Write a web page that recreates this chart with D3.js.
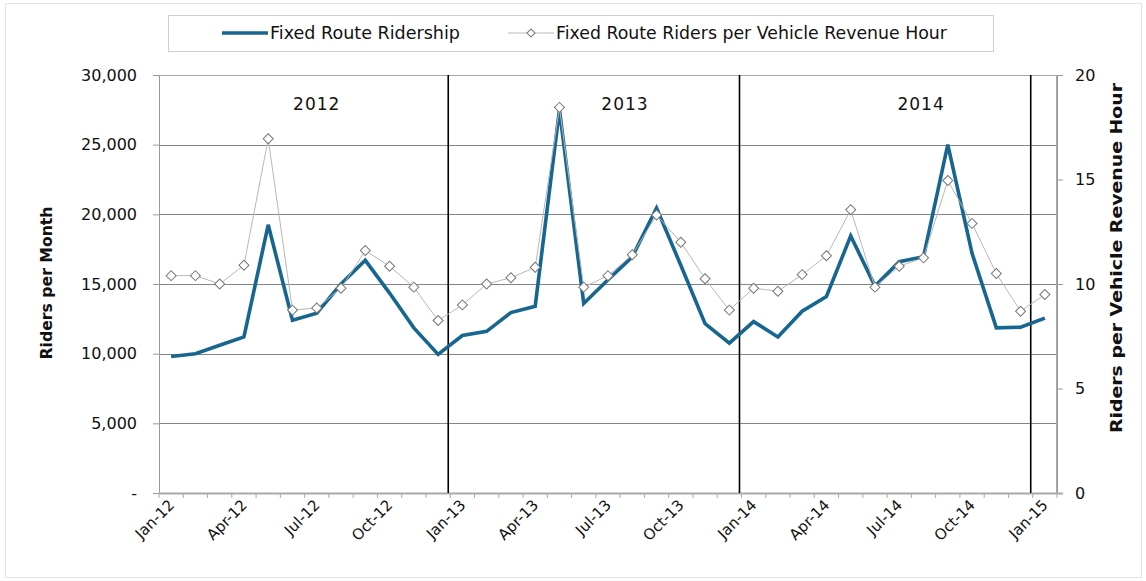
<!DOCTYPE html>
<html><head><meta charset="utf-8">
<script src="https://cdn.jsdelivr.net/npm/d3@7"></script>
<style>
body{margin:0;background:#fff;}
text{font-family:"DejaVu Sans","Noto Sans",sans-serif;fill:#111;}
</style></head>
<body><svg id="c" width="1146" height="581"></svg>
<script>
const months = ["Jan-12","Feb-12","Mar-12","Apr-12","May-12","Jun-12","Jul-12","Aug-12","Sep-12","Oct-12","Nov-12","Dec-12",
"Jan-13","Feb-13","Mar-13","Apr-13","May-13","Jun-13","Jul-13","Aug-13","Sep-13","Oct-13","Nov-13","Dec-13",
"Jan-14","Feb-14","Mar-14","Apr-14","May-14","Jun-14","Jul-14","Aug-14","Sep-14","Oct-14","Nov-14","Dec-14","Jan-15"];
const ridership = [9800,10000,10600,11200,19250,12400,12900,15000,16700,14350,11850,9950,
11300,11600,12950,13400,27500,13600,15300,16950,20450,16350,12150,10750,
12300,11200,13050,14100,18450,14850,16600,16950,25000,17200,11850,11900,12550];
const ridersPerHour = [10.4,10.4,10.0,10.9,16.95,8.75,8.85,9.8,11.6,10.85,9.85,8.25,
9.0,10.0,10.3,10.8,18.45,9.85,10.4,11.4,13.3,12.0,10.25,8.75,
9.8,9.65,10.45,11.35,13.55,9.85,10.85,11.25,14.95,12.9,10.5,8.7,9.5];
const leftTicks = [0,5000,10000,15000,20000,25000,30000];
const rightTicks = [0,5,10,15,20];
const xLabelMonths = ["Jan-12","Apr-12","Jul-12","Oct-12","Jan-13","Apr-13","Jul-13","Oct-13","Jan-14","Apr-14","Jul-14","Oct-14","Jan-15"];
const yearSeparators = [12,24,36]; // category index where a new year starts
const yearLabels = [{text:"2012",pos:6.0},{text:"2013",pos:18.7},{text:"2014",pos:30.9}];
const seriesNames = ["Fixed Route Ridership","Fixed Route Riders per Vehicle Revenue Hour"];

const svg = d3.select("#c");
const L=159, R=1057, T=75, B=493;
const blue="#17668f";

const x = d3.scaleBand().domain(months).range([L,R]).padding(0);
const xi = d3.scaleLinear().domain([0,months.length]).range([L,R]);
const yL = d3.scaleLinear().domain([0,30000]).range([B,T]);
const yR = d3.scaleLinear().domain([0,20]).range([B,T]);

svg.append("rect").attr("x",5.5).attr("y",3.5).attr("width",1136).attr("height",574).attr("fill","none").attr("stroke","#e4e4e4");

svg.append("g").selectAll("line").data(leftTicks.filter(d=>d>0)).join("line")
  .attr("x1",L).attr("x2",R).attr("y1",d=>Math.round(yL(d))+0.5).attr("y2",d=>Math.round(yL(d))+0.5)
  .attr("stroke","#858585").attr("stroke-width",1);
svg.append("rect").attr("x",L+0.5).attr("y",T+0.5).attr("width",R-L-1).attr("height",B-T).attr("fill","none").attr("stroke","#a8a8a8");

const la = svg.append("g").attr("transform",`translate(${L},0)`)
  .call(d3.axisLeft(yL).tickValues(leftTicks).tickSize(6).tickPadding(16)
    .tickFormat(d=>d===0?"-":d3.format(",")(d)));
la.select(".domain").attr("stroke","#999");
la.selectAll(".tick line").attr("stroke","#999");
la.selectAll("text").attr("font-size",16).attr("font-family","DejaVu Sans").attr("fill","#111");

const ra = svg.append("g").attr("transform",`translate(${R},0)`)
  .call(d3.axisRight(yR).tickValues(rightTicks).tickSize(6).tickPadding(12));
ra.select(".domain").attr("stroke","#999");
ra.selectAll(".tick line").attr("stroke","#999");
ra.selectAll("text").attr("font-size",16).attr("font-family","DejaVu Sans").attr("fill","#111");

const bx = svg.append("g");
bx.append("line").attr("x1",L).attr("x2",R+6).attr("y1",B+0.5).attr("y2",B+0.5).attr("stroke","#aaa").attr("stroke-width",2);
bx.selectAll("line.t").data(d3.range(months.length+1)).join("line").attr("class","t")
  .attr("x1",d=>xi(d)).attr("x2",d=>xi(d)).attr("y1",B).attr("y2",B+5).attr("stroke","#aaa");
bx.selectAll("text").data(xLabelMonths).join("text")
  .attr("transform",d=>`translate(${x(d)+x.bandwidth()/2+4},${B+13}) rotate(-45)`)
  .attr("text-anchor","end").attr("font-size",15).text(d=>d);

svg.append("g").selectAll("line").data(yearSeparators).join("line")
  .attr("x1",d=>xi(d)-2).attr("x2",d=>xi(d)-2).attr("y1",T).attr("y2",B)
  .attr("stroke","#000").attr("stroke-width",1.6);

svg.append("g").selectAll("text").data(yearLabels).join("text")
  .attr("x",d=>xi(d.pos+0.5)).attr("y",110).attr("text-anchor","middle")
  .attr("font-size",17).attr("letter-spacing",1).text(d=>d.text);

const cx = d=>x(d)+x.bandwidth()/2;
svg.append("path").datum(ridership)
  .attr("d",d3.line().x((d,i)=>cx(months[i])).y(d=>yL(d)))
  .attr("fill","none").attr("stroke",blue).attr("stroke-width",3.6).attr("stroke-linejoin","miter");

svg.append("path").datum(ridersPerHour)
  .attr("d",d3.line().x((d,i)=>cx(months[i])).y(d=>yR(d)))
  .attr("fill","none").attr("stroke","#b8b8b8").attr("stroke-width",1);
svg.append("g").selectAll("path").data(ridersPerHour).join("path")
  .attr("transform",(d,i)=>`translate(${cx(months[i])},${yR(d)}) rotate(45)`)
  .attr("d",d3.symbol().type(d3.symbolSquare).size(50))
  .attr("fill","#fff").attr("stroke","#777").attr("stroke-width",1);

svg.append("text").attr("transform",`translate(52,283) rotate(-90)`)
  .attr("text-anchor","middle").attr("font-size",16).attr("font-weight","bold")
  .attr("textLength",153).attr("lengthAdjust","spacingAndGlyphs").text("Riders per Month");
svg.append("text").attr("transform",`translate(1122,258) rotate(-90)`)
  .attr("text-anchor","middle").attr("font-size",16).attr("font-weight","bold")
  .attr("textLength",350).attr("lengthAdjust","spacingAndGlyphs").text("Riders per Vehicle Revenue Hour");

const lg = svg.append("g");
lg.append("rect").attr("x",168.5).attr("y",15.5).attr("width",825).attr("height",36).attr("fill","#fff").attr("stroke","#d0d0d0");
lg.append("line").attr("x1",222).attr("x2",268).attr("y1",33).attr("y2",33).attr("stroke",blue).attr("stroke-width",3.6);
lg.append("text").attr("x",270).attr("y",39).attr("font-size",17)
  .attr("textLength",190).attr("lengthAdjust","spacingAndGlyphs").text(seriesNames[0]);
lg.append("line").attr("x1",508).attr("x2",554).attr("y1",33).attr("y2",33).attr("stroke","#b8b8b8");
lg.append("path").attr("transform","translate(531,33) rotate(45)").attr("d",d3.symbol().type(d3.symbolSquare).size(32))
  .attr("fill","#fff").attr("stroke","#777");
lg.append("text").attr("x",556).attr("y",39).attr("font-size",17)
  .attr("textLength",391).attr("lengthAdjust","spacingAndGlyphs").text(seriesNames[1]);
</script></body></html>
